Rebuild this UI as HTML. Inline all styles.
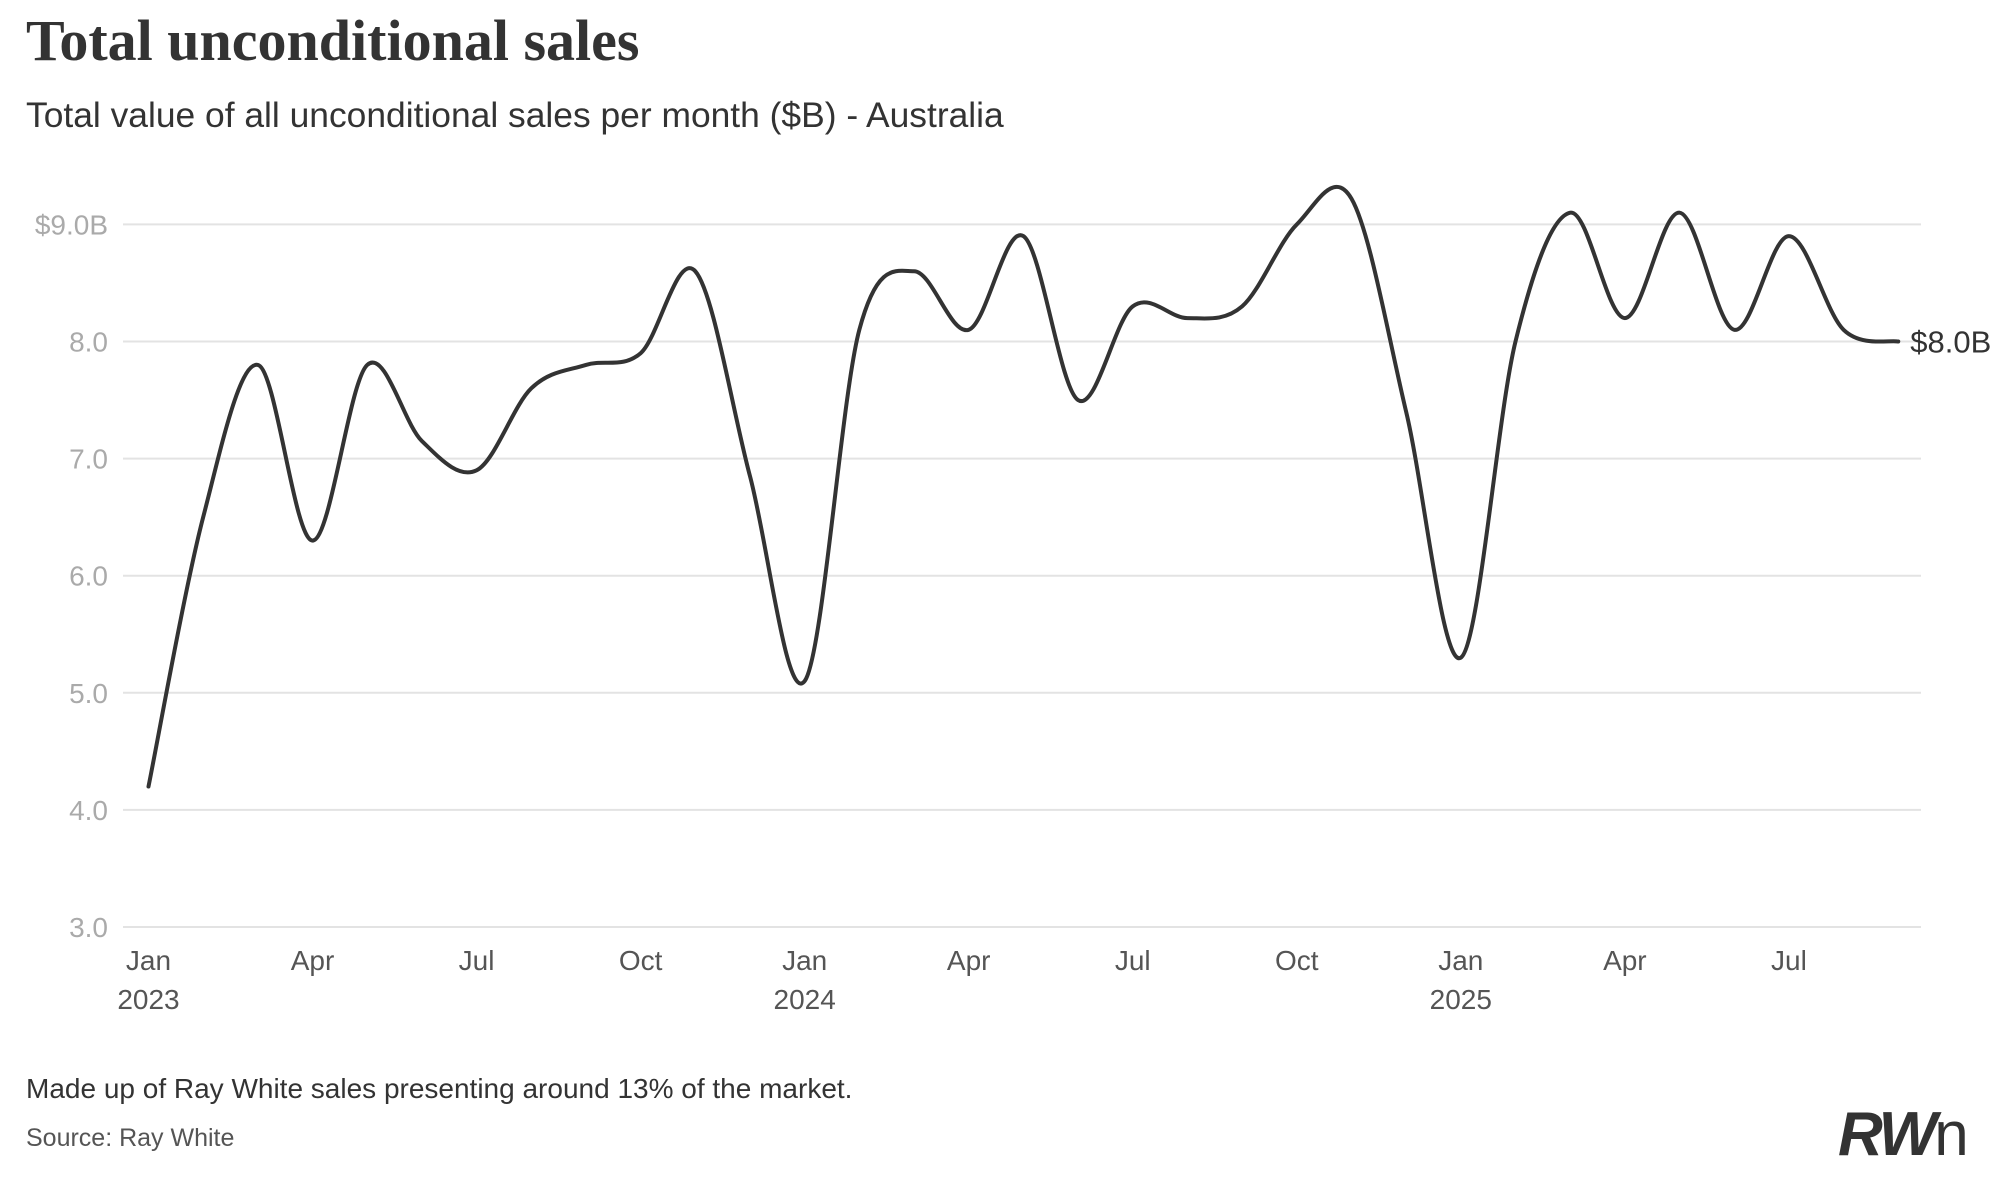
<!DOCTYPE html>
<html><head><meta charset="utf-8"><style>
body{margin:0;background:#fff;width:2015px;height:1175px;overflow:hidden;font-family:"Liberation Sans",sans-serif;}
</style></head><body>
<svg id="chart" width="2015" height="1175" xmlns="http://www.w3.org/2000/svg">
<text x="26" y="60" font-family="Liberation Serif,serif" font-weight="bold" font-size="58" fill="#333" letter-spacing="0">Total unconditional sales</text>
<text x="26" y="127" font-size="35.4" fill="#333">Total value of all unconditional sales per month ($B) - Australia</text>
<g id="grid"></g><g id="xaxis"></g>
<path id="line" fill="none" stroke="#333" stroke-width="4" stroke-linejoin="round" stroke-linecap="round"/>
<text id="endlabel" font-size="31" fill="#333"></text>
<text x="26" y="1098" font-size="28" fill="#333">Made up of Ray White sales presenting around 13% of the market.</text>
<text x="26" y="1146" font-size="25" fill="#555">Source: Ray White</text>
<text x="1838" y="1155" font-size="62" font-weight="bold" font-style="italic" fill="#333" letter-spacing="-3">RW<tspan font-weight="normal" font-style="normal">n</tspan></text>
</svg>
<script>
const values=[4.2,6.5,7.8,6.3,7.8,7.15,6.9,7.6,7.8,7.9,8.6,6.85,5.1,8.1,8.6,8.1,8.9,7.5,8.3,8.2,8.3,9.0,9.22,7.4,5.3,8.0,9.1,8.2,9.1,8.1,8.9,8.1,8.0];
const yTicks=[3,4,5,6,7,8,9];
const yTickLabels=["3.0","4.0","5.0","6.0","7.0","8.0","$9.0B"];
const xTickIdx=[0,3,6,9,12,15,18,21,24,27,30];
const xTickLabels=["Jan","Apr","Jul","Oct","Jan","Apr","Jul","Oct","Jan","Apr","Jul"];
const yearLabels=["2023","2024","2025"];
const NS="http://www.w3.org/2000/svg";
const x=i=>148.5+i*54.68;
const y=v=>927-(v-3)*117.1;
const grid=document.getElementById('grid'),xa=document.getElementById('xaxis');
yTicks.forEach((t,k)=>{
 const l=document.createElementNS(NS,'line');
 
 
 l.setAttribute('x1',123);l.setAttribute('x2',1921);l.setAttribute('y1',y(t));l.setAttribute('y2',y(t));
 l.setAttribute('stroke','#e3e3e3');l.setAttribute('stroke-width',2);grid.appendChild(l);
 const tx=document.createElementNS(NS,'text');
 
 
 tx.setAttribute('x',108);tx.setAttribute('y',y(t)+10);tx.setAttribute('text-anchor','end');
 tx.setAttribute('font-size',28);tx.setAttribute('fill','#aaa');tx.textContent=yTickLabels[k];grid.appendChild(tx);
});
xTickIdx.forEach((i,k)=>{
 const tx=document.createElementNS(NS,'text');
 
 
 tx.setAttribute('x',x(i));tx.setAttribute('y',970);tx.setAttribute('text-anchor','middle');
 tx.setAttribute('font-size',28);tx.setAttribute('fill','#555');tx.textContent=xTickLabels[k];xa.appendChild(tx);
 if(i%12===0){
  const yr=document.createElementNS(NS,'text');
  
  
  yr.setAttribute('x',x(i));yr.setAttribute('y',1009);yr.setAttribute('text-anchor','middle');
  yr.setAttribute('font-size',28);yr.setAttribute('fill','#555');yr.textContent=yearLabels[i/12];xa.appendChild(yr);
 }
});
const P=values.map((v,i)=>[x(i),y(v)]);
let d='M'+P[0][0]+','+P[0][1];
for(let i=0;i<P.length-1;i++){
 const p0=P[Math.max(0,i-1)],p1=P[i],p2=P[i+1],p3=P[Math.min(P.length-1,i+2)];
 const c1=[p1[0]+(p2[0]-p0[0])/6,p1[1]+(p2[1]-p0[1])/6];
 const c2=[p2[0]-(p3[0]-p1[0])/6,p2[1]-(p3[1]-p1[1])/6];
 d+=` C${c1[0]},${c1[1]} ${c2[0]},${c2[1]} ${p2[0]},${p2[1]}`;
}
document.getElementById('line').setAttribute('d',d);
const last=P[P.length-1],el=document.getElementById('endlabel');
el.setAttribute('x',last[0]+12);el.setAttribute('y',last[1]+11);
el.textContent='$'+values[values.length-1].toFixed(1)+'B';
</script>
</body></html>
